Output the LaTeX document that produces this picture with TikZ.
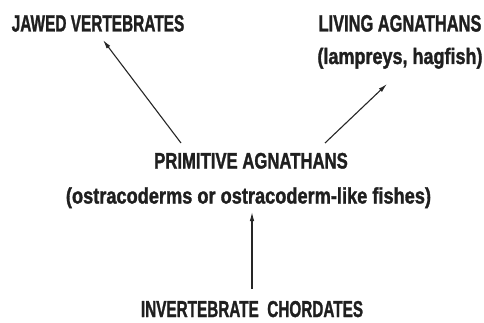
\documentclass[tikz,border=0pt]{standalone}
\usepackage{fontspec}
\setmainfont{Liberation Sans}[BoldFeatures={FakeBold=1.6}]
\usetikzlibrary{arrows.meta}
\begin{document}
\begin{tikzpicture}[x=1pt,y=-1pt,
  lbl/.style={font=\bfseries\fontsize{20}{24}\selectfont, inner sep=0pt, anchor=base, text=black!88},
  arr/.style={draw=black!85, line width=1.1pt, -{Latex[length=9pt,width=4.5pt]}}]
\useasboundingbox[fill=white] (0,0) rectangle (484,323);
\node[lbl] (jaw) at (98,31.5) {\scalebox{0.77}[1.18]{JAWED VERTEBRATES}};
\node[lbl] (liv) at (400,31.5) {\scalebox{0.82}[1.18]{LIVING AGNATHANS}};
\node[lbl] (lam) at (400,64) {\scalebox{0.9}[1.12]{(lampreys, hagfish)}};
\node[lbl] (prim) at (251,168.5) {\scalebox{0.835}[1.12]{PRIMITIVE AGNATHANS}};
\node[lbl] (ost) at (248.5,203.5) {\scalebox{0.91}[1.12]{(ostracoderms or ostracoderm-like fishes)}};
\node[lbl] (inv) at (252,317) {\scalebox{0.765}[1.15]{INVERTEBRATE\ \ CHORDATES}};
\coordinate (a1s) at (181,143);
\coordinate (a1e) at (103,40);
\coordinate (a2s) at (325,143);
\coordinate (a2e) at (387,84);
\coordinate (a3s) at (252,289);
\coordinate (a3e) at (252,212);
\draw[arr] (a1s) -- (a1e);
\draw[arr] (a2s) -- (a2e);
\draw[arr] (a3s) -- (a3e);
\end{tikzpicture}
\end{document}
